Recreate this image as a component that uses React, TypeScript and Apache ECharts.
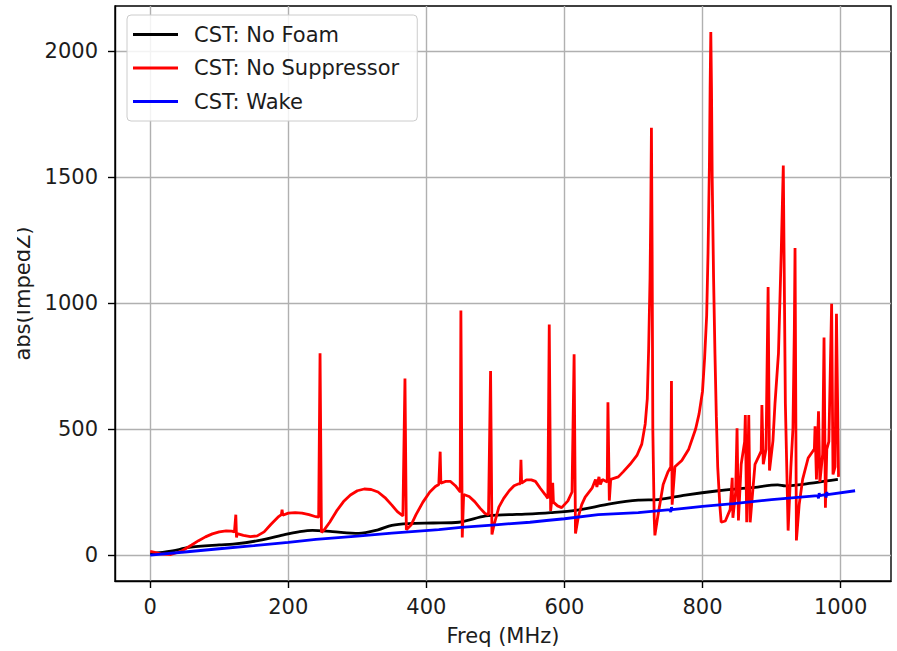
import React, { useEffect, useRef } from "react";
import * as echarts from "echarts";

// CST: No Foam
const foamFreq = [0, 30, 56, 100, 120, 158, 196, 215, 235, 264, 302, 330, 350, 374, 410, 447, 486, 520, 543, 580, 616, 668, 707, 736, 775, 823, 871, 909, 920, 938, 996];
const foamImp = [5, 15, 30, 40, 43, 58, 82, 92, 98, 93, 86, 100, 118, 125, 127, 130, 155, 160, 162, 168, 177, 204, 218, 220, 238, 255, 267, 278, 274, 278, 300];

// CST: No Suppressor
const supFreq = [0, 5, 15, 30, 45, 60, 70, 80, 90, 100, 110, 118, 122, 124, 125, 126, 135, 145, 155, 165, 175, 185, 190, 191, 192, 200, 210, 220, 230, 240, 244, 246, 248, 252, 260, 270, 280, 290, 300, 310, 320, 330, 340, 350, 358, 366, 369, 371, 378, 385, 395, 405, 413, 418, 420, 421, 428, 435, 442, 449, 450, 452, 454, 462, 470, 478, 485, 490, 493, 495, 498, 505, 512, 520, 527, 533, 536, 537, 538, 545, 552, 558, 565, 572, 576, 578, 580, 582, 583, 584, 590, 596, 605, 611, 614, 616, 620, 625, 630, 640, 645, 647, 650, 652, 655, 662, 663, 665, 667, 678, 685, 695, 705, 712, 717, 720, 722, 724, 725, 726, 727, 728, 730, 731, 735, 743, 750, 754, 755, 756, 760, 770, 780, 790, 795, 800, 803, 806, 808, 810, 811, 812, 813, 814, 816, 818, 820, 822, 825, 827, 833, 840, 843, 844, 848, 850, 852, 856, 861, 862, 864, 866, 867, 869, 876, 885, 886, 888, 892, 895, 897, 902, 905, 910, 914, 917, 920, 924, 928, 931, 933, 934, 936, 940, 945, 953, 960, 962, 963, 965, 968, 970, 974, 976, 978, 980, 983, 987, 989, 992, 994, 997];
const supImp = [15, 12, 5, 2, 15, 40, 57, 72, 84, 92, 96, 95, 92, 160, 70, 85, 78, 73, 76, 92, 122, 150, 160, 180, 158, 166, 168, 166, 160, 152, 150, 800, 90, 100, 130, 175, 212, 238, 255, 262, 260, 250, 228, 198, 172, 155, 700, 100, 120, 160, 210, 250, 272, 280, 410, 285, 292, 292, 275, 250, 970, 70, 240, 232, 212, 185, 165, 160, 730, 82, 120, 190, 225, 255, 275, 282, 282, 378, 285, 298, 298, 292, 265, 240, 225, 914, 175, 230, 287, 210, 195, 188, 215, 250, 796, 85, 150, 200, 230, 265, 300, 270, 310, 280, 300, 290, 606, 216, 300, 310, 330, 360, 395, 440, 520, 620, 820, 1100, 1350, 1695, 1200, 500, 150, 78, 150, 280, 330, 350, 690, 200, 350, 375, 420, 500, 560, 650, 780, 950, 1200, 1550, 1850, 2075, 1850, 1500, 1100, 800, 550, 350, 200, 130, 135, 180, 306, 148, 250, 503, 137, 360, 450, 555, 130, 400, 555, 130, 360, 412, 595, 360, 420, 1063, 335, 453, 603, 800, 1200, 1545, 600, 97, 350, 503, 900, 1218, 58, 200, 300, 385, 413, 420, 511, 300, 570, 290, 400, 863, 188, 420, 450, 997, 320, 350, 957, 310];

// CST: Wake
const wakeFreq = [0, 50, 100, 150, 200, 240, 300, 350, 418, 450, 500, 550, 574, 600, 649, 707, 753, 754, 755, 756, 800, 845, 900, 967, 968, 969, 970, 978, 979, 980, 981, 1021];
const wakeImp = [0, 12, 25, 37, 50, 62, 75, 87, 101, 110, 120, 130, 137, 144, 160, 168, 180, 170, 190, 180, 193, 204, 220, 236, 225, 245, 236, 240, 228, 250, 240, 255];

const xTicks = [0, 200, 400, 600, 800, 1000];
const yTicks = [0, 500, 1000, 1500, 2000];

const zip = (xs: number[], ys: number[]) => xs.map((x, i) => [x, ys[i]]);

const FONT = "DejaVu Sans";
const TXT = "#1c1c1c";

export default function App() {
  const ref = useRef<HTMLDivElement>(null);
  useEffect(() => {
    if (!ref.current) return;
    const chart = echarts.init(ref.current, undefined, { renderer: "svg" });
    chart.setOption({
      animation: false,
      backgroundColor: "#ffffff",
      grid: {
        left: 115,
        top: 6,
        width: 776,
        height: 577,
        show: true,
        borderColor: "#000",
        borderWidth: 1.4,
        backgroundColor: "transparent",
      },
      legend: {
        orient: "vertical",
        left: 127,
        top: 15,
        padding: [9, 18, 9, 6],
        itemGap: 12.5,
        itemWidth: 45,
        itemHeight: 2.8,
        icon: "rect",
        backgroundColor: "rgba(255,255,255,0.85)",
        borderColor: "#cccccc",
        borderWidth: 1,
        borderRadius: 4,
        textStyle: { fontSize: 21, fontFamily: FONT, color: TXT, padding: [0, 0, 0, 11] },
        data: ["CST: No Foam", "CST: No Suppressor", "CST: Wake"],
      },
      graphic: [
        { type: "rect", left: 0, top: 0, z: 100, shape: { width: 17, height: 651 }, style: { fill: "#ffffff" } },
      ],
      xAxis: {
        type: "value",
        min: -51,
        max: 1073,
        name: "Freq (MHz)",
        nameLocation: "middle",
        nameGap: 44,
        nameTextStyle: { fontSize: 21, fontFamily: FONT, color: TXT },
        axisLine: { show: true, onZero: false, lineStyle: { color: "#000", width: 1.4 } },
        axisTick: { show: true, inside: false, length: 7, customValues: xTicks, lineStyle: { color: "#000", width: 1.4 } },
        axisLabel: { customValues: xTicks, margin: 15, fontSize: 21, fontFamily: FONT, color: TXT, formatter: (v: number) => String(v) },
        splitLine: { show: true, lineStyle: { color: "#b0b0b0", width: 1.4 } },
      },
      yAxis: {
        type: "value",
        min: -103,
        max: 2178,
        name: "abs(ImpedZ)",
        nameLocation: "middle",
        nameRotate: 90,
        nameGap: 78,
        nameTextStyle: { fontSize: 21, fontFamily: FONT, color: TXT },
        axisLine: { show: true, onZero: false, lineStyle: { color: "#000", width: 1.4 } },
        axisTick: { show: true, inside: false, length: 7, customValues: yTicks, lineStyle: { color: "#000", width: 1.4 } },
        axisLabel: { customValues: yTicks, margin: 17, fontSize: 21, fontFamily: FONT, color: TXT, formatter: (v: number) => String(v) },
        splitLine: { show: true, lineStyle: { color: "#b0b0b0", width: 1.4 } },
      },
      series: [
        {
          name: "CST: No Foam",
          type: "line",
          data: zip(foamFreq, foamImp),
          symbol: "none",
          smooth: 0.3,
          lineStyle: { color: "#000000", width: 2.8 },
          itemStyle: { color: "#000000" },
          z: 3,
        },
        {
          name: "CST: No Suppressor",
          type: "line",
          data: zip(supFreq, supImp),
          symbol: "none",
          lineStyle: { color: "#ff0000", width: 2.8 },
          itemStyle: { color: "#ff0000" },
          z: 4,
        },
        {
          name: "CST: Wake",
          type: "line",
          data: zip(wakeFreq, wakeImp),
          symbol: "none",
          lineStyle: { color: "#0000ff", width: 2.8 },
          itemStyle: { color: "#0000ff" },
          z: 5,
        },
      ],
    });
    return () => chart.dispose();
  }, []);
  return (
    <div
      ref={ref}
      style={{ position: "fixed", left: 0, top: 0, width: 897, height: 651, overflow: "hidden", background: "#fff" }}
    />
  );
}
